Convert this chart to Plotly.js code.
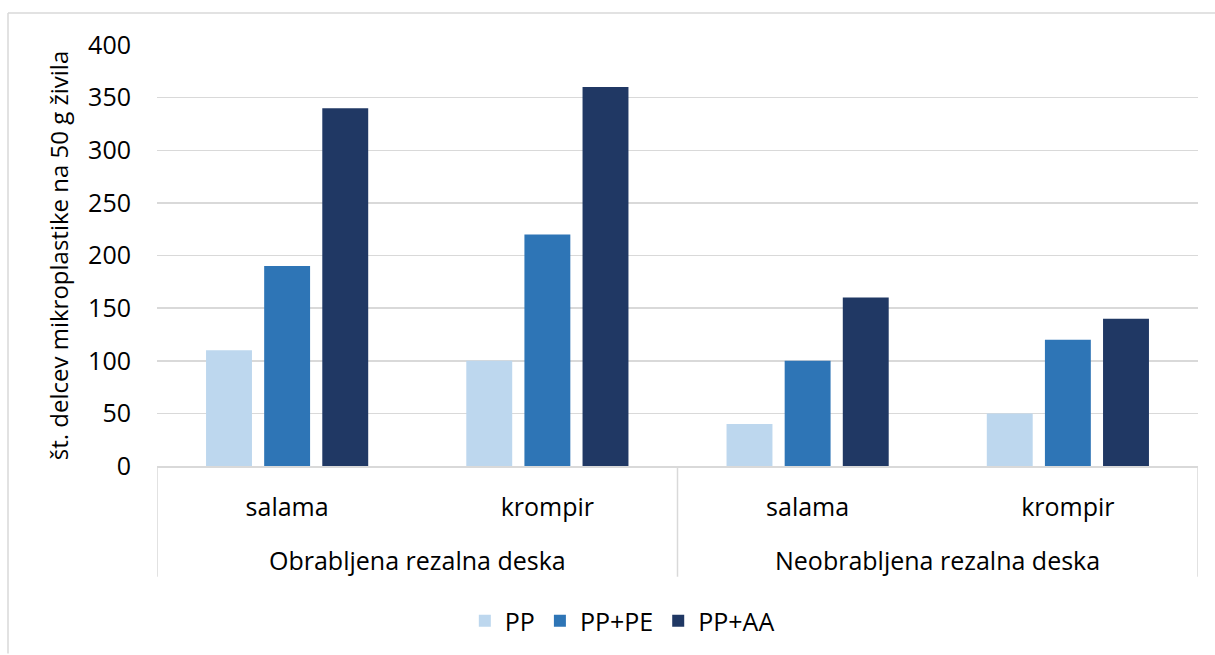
<!DOCTYPE html>
<html>
<head>
<meta charset="utf-8">
<script src="https://cdn.plot.ly/plotly-3.0.1.min.js"></script>
<style>
  html, body { margin: 0; padding: 0; background: #ffffff; }
  #chart { width: 1215px; height: 655px; }
</style>
</head>
<body>
<div id="chart"></div>
<script>
const groupLabels = ["Obrabljena rezalna deska", "Neobrabljena rezalna deska"];
const groups = ["Obrabljena rezalna deska", "Obrabljena rezalna deska", "Neobrabljena rezalna deska", "Neobrabljena rezalna deska"];
const foods = ["salama", "krompir", "salama", "krompir"];
const seriesNames = ["PP", "PP+PE", "PP+AA"];
const ppValues = [110, 100, 40, 50];
const ppPeValues = [190, 220, 100, 120];
const ppAaValues = [340, 360, 160, 140];
const colors = ["#BDD7EE", "#2E75B6", "#203864"];
const yTitle = "št. delcev mikroplastike na 50 g živila";

const FONT = "'Open Sans', Lato, sans-serif";
const FS = 25;
const keys = groups.map((g, i) => g + " | " + foods[i]);
const allValues = [ppValues, ppPeValues, ppAaValues];
const traces = seriesNames.map((name, i) => ({
  type: "bar",
  name: name,
  x: keys,
  y: allValues[i],
  marker: { color: colors[i], line: { width: 0 } },
  hoverinfo: "x+y+name"
}));

const W = 1215, H = 655, L = 157, R = 17, T = 45, B = 188;
const pw = W - L - R, ph = H - T - B;
const px = v => (v - L) / pw;
const py = v => (H - B - v) / ph;

// group label annotations and divider lines placed on the category scale
const perGroup = foods.length / groupLabels.length;
const annotations = groupLabels.map((g, gi) => ({
  xref: "x", yref: "paper",
  x: gi * perGroup + (perGroup - 1) / 2,
  y: py(561), yanchor: "middle", xanchor: "center",
  text: g, showarrow: false,
  font: { family: FONT, size: FS, color: "#000000" }
}));
const dividerLine = { color: "#d9d9d9", width: 1.5 };
const shapes = [];
for (let gi = 0; gi <= groupLabels.length; gi++) {
  shapes.push({ type: "line", xref: "x", yref: "paper", x0: gi * perGroup - 0.5, x1: gi * perGroup - 0.5, y0: 0, y1: py(578), line: dividerLine });
}
shapes.push({ type: "line", xref: "paper", yref: "paper", x0: px(8), x1: px(1215), y0: py(13), y1: py(13), line: dividerLine });
shapes.push({ type: "line", xref: "paper", yref: "paper", x0: px(8), x1: px(8), y0: py(13), y1: py(655), line: dividerLine });

const layout = {
  width: W, height: H,
  margin: { l: L, r: R, t: T, b: B },
  paper_bgcolor: "#ffffff",
  plot_bgcolor: "#ffffff",
  font: { family: FONT, size: FS, color: "#000000" },
  barmode: "group",
  bargap: 0.33,
  bargroupgap: 0.21,
  showlegend: true,
  legend: {
    orientation: "h",
    x: 0.447, xanchor: "center",
    y: py(621), yanchor: "middle",
    font: { family: FONT, size: FS, color: "#000000" },
    itemwidth: 30,
    tracegroupgap: 0
  },
  xaxis: {
    type: "category",
    tickmode: "array",
    tickvals: keys,
    ticktext: foods,
    range: [-0.5, keys.length - 0.5],
    showline: true,
    linecolor: "#d9d9d9",
    linewidth: 1.5,
    showgrid: false,
    ticks: "",
    ticklabelstandoff: 18,
    tickfont: { family: FONT, size: FS, color: "#000000" }
  },
  yaxis: {
    range: [0, 400],
    dtick: 50,
    tick0: 0,
    showgrid: true,
    gridcolor: "#d9d9d9",
    gridwidth: 1.5,
    zeroline: false,
    showline: false,
    ticks: "",
    ticklabelstandoff: 25,
    tickfont: { family: FONT, size: FS, color: "#000000" },
    title: { text: yTitle, font: { family: FONT, size: 24, color: "#000000" }, standoff: 12 }
  },
  annotations: annotations,
  shapes: shapes
};

Plotly.newPlot("chart", traces, layout, { displayModeBar: false, staticPlot: true });
</script>
</body>
</html>
